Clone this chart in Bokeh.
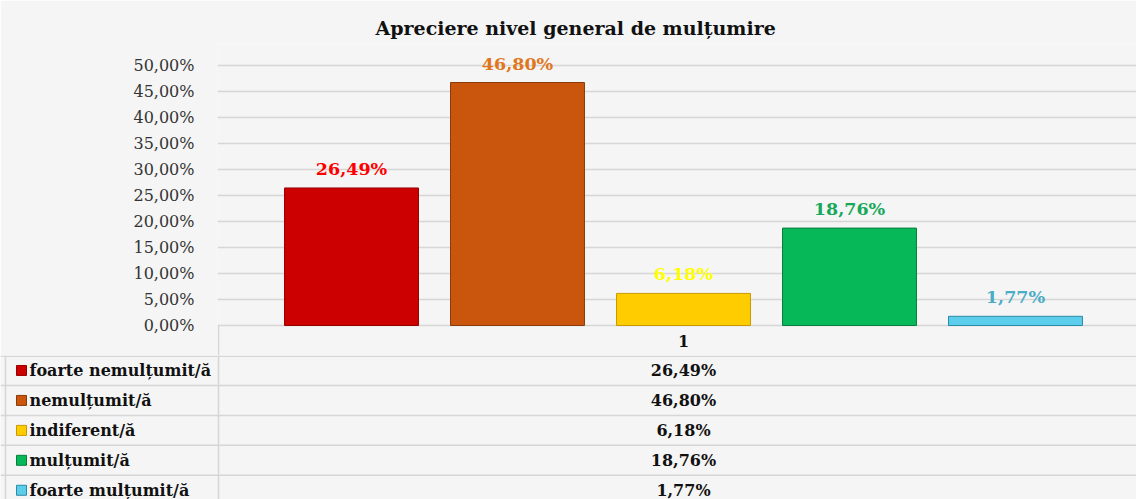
from bokeh.plotting import figure
from bokeh.models import Range1d, FixedTicker, ColumnDataSource
from bokeh.layouts import column
from bokeh.core.properties import value
from bokeh.embed import file_html
from bokeh.resources import INLINE

# ---------------- data ----------------
title_text = "Apreciere nivel general de mulțumire"
categories = ["foarte nemulțumit/ă", "nemulțumit/ă", "indiferent/ă", "mulțumit/ă", "foarte mulțumit/ă"]
values = [26.49, 46.80, 6.18, 18.76, 1.77]
group_label = "1"
y_ticks = [0, 5, 10, 15, 20, 25, 30, 35, 40, 45, 50]
y_tick_labels = ["0,00%", "5,00%", "10,00%", "15,00%", "20,00%", "25,00%",
                 "30,00%", "35,00%", "40,00%", "45,00%", "50,00%"]

# ---------------- styles ----------------
bar_colors = ["#CC0000", "#C9560C", "#FFCC00", "#06B858", "#5CCDEB"]
bar_line_colors = ["#990000", "#8A3A08", "#C89A00", "#067F3E", "#2B8BA8"]
label_colors = ["#FF0000", "#E0761E", "#FFFF00", "#17A85A", "#4BACC6"]
BG = "#F5F5F5"
GRID = "#D6D6D6"
SERIF = "DejaVu Serif"


def pct(v):
    return f"{v:.2f}".replace(".", ",") + "%"


W = 1136
PXY = 5.192          # pixels per percentage point
ROW_H = 29.95        # table row height (px)
FRAME_LEFT = 217
FRAME_TOP = 43
ZERO_Y = 325         # pixel row of the 0 % line
H_TOP = int(round(ZERO_Y + ROW_H))   # chart + table header row
H_BOT = 499 - H_TOP
PX = 166.0           # pixels per category step
BAR_W = 0.807
X0 = -(351 - FRAME_LEFT) / PX      # data x at the left edge of the plot area
X_END = X0 + (W - FRAME_LEFT) / PX
Y_END = (ZERO_Y - FRAME_TOP) / PXY
Y_START = -(H_TOP - ZERO_Y) / PXY

x_pos = list(range(len(categories)))
x_center = sum(x_pos) / len(x_pos)

src = ColumnDataSource(dict(
    x=x_pos, v=values, cat=categories, lab=[pct(v) for v in values],
    fc=bar_colors, lc=bar_line_colors, tc=label_colors,
))

# ---------------- chart ----------------
p1 = figure(width=W, height=H_TOP, output_backend="svg", toolbar_location=None,
            x_range=Range1d(X0, X_END), y_range=Range1d(Y_START, Y_END),
            x_axis_location=None, title=title_text,
            min_border_left=FRAME_LEFT, min_border_right=0,
            min_border_bottom=0, min_border_top=FRAME_TOP)
p1.frame_align = False
p1.background_fill_color = BG
p1.border_fill_color = BG
p1.outline_line_color = None

p1.title.text_font = SERIF
p1.title.text_font_size = "19px"
p1.title.text_font_style = "bold"
p1.title.text_color = "#111111"
p1.title.align = "left"
p1.title.offset = 158

ax = p1.yaxis[0]
ax.ticker = FixedTicker(ticks=y_ticks)
ax.major_label_overrides = {t: l for t, l in zip(y_ticks, y_tick_labels)}
ax.axis_line_color = None
ax.major_tick_line_color = None
ax.minor_tick_line_color = None
ax.major_label_standoff = 17
ax.major_label_text_font = SERIF
ax.major_label_text_font_size = "16px"
ax.major_label_text_color = "#333333"

p1.xgrid.visible = False
p1.ygrid.grid_line_color = GRID
p1.ygrid.grid_line_width = 1.5

p1.vbar(x="x", top="v", bottom=0, width=BAR_W, fill_color="fc", line_color="lc",
        line_width=1, source=src)

p1.text(x="x", y="v", text="lab", text_color="tc", text_align="center",
        text_baseline="alphabetic", y_offset=-19, text_font=value(SERIF),
        text_font_style="bold", text_font_size="17.5px", source=src)

# table header row (series name "1") and its left border
p1.segment(x0=[X0 + 1 / PX], y0=[Y_START], x1=[X0 + 1 / PX], y1=[0],
           line_color=GRID, line_width=1.5)
p1.text(x=[x_center], y=[Y_START / 2], text=[group_label], text_align="center",
        text_baseline="middle", text_font=value(SERIF), text_font_style="bold",
        text_font_size="16px", text_color="#111111")

# ---------------- data table ----------------
XL = X0 - FRAME_LEFT / PX   # data x at the canvas left edge
p2 = figure(width=W, height=H_BOT, output_backend="svg", toolbar_location=None,
            x_range=Range1d(XL, X_END), y_range=Range1d(H_BOT, 0),
            x_axis_location=None, y_axis_location=None,
            min_border_left=0, min_border_right=0, min_border_top=0, min_border_bottom=0)
p2.frame_align = False
p2.background_fill_color = BG
p2.border_fill_color = BG
p2.outline_line_color = None
p2.xgrid.visible = False
p2.ygrid.visible = False

n = len(categories)
row_y = [0.75] + [ROW_H * (i + 1) for i in range(n - 1)]
p2.segment(x0=[XL] * n, y0=row_y, x1=[X_END] * n, y1=row_y, line_color=GRID, line_width=1.5)
p2.segment(x0=[X0 + 1 / PX], y0=[0], x1=[X0 + 1 / PX], y1=[H_BOT], line_color=GRID, line_width=1.5)
p2.segment(x0=[XL + 5 / PX], y0=[0], x1=[XL + 5 / PX], y1=[H_BOT], line_color=GRID, line_width=1.5)

tsrc = ColumnDataSource(dict(
    xk=[XL + 21 / PX] * n, xt=[XL + 29 / PX] * n, xv=[x_center] * n,
    y=[ROW_H * (i + 0.5) for i in range(n)], cat=categories,
    lab=[pct(v) for v in values], fc=bar_colors, lc=bar_line_colors,
))
p2.scatter(x="xk", y="y", marker="square", size=10, fill_color="fc", line_color="lc",
           source=tsrc)
p2.text(x="xt", y="y", text="cat", text_align="left", text_baseline="middle",
        text_font=value(SERIF), text_font_style="bold", text_font_size="16px",
        text_color="#111111", source=tsrc)
p2.text(x="xv", y="y", text="lab", text_align="center", text_baseline="middle",
        text_font=value(SERIF), text_font_style="bold", text_font_size="16px",
        text_color="#111111", source=tsrc)

layout = column(p1, p2, spacing=0)
open("out.html", "w").write(file_html(layout, INLINE))
